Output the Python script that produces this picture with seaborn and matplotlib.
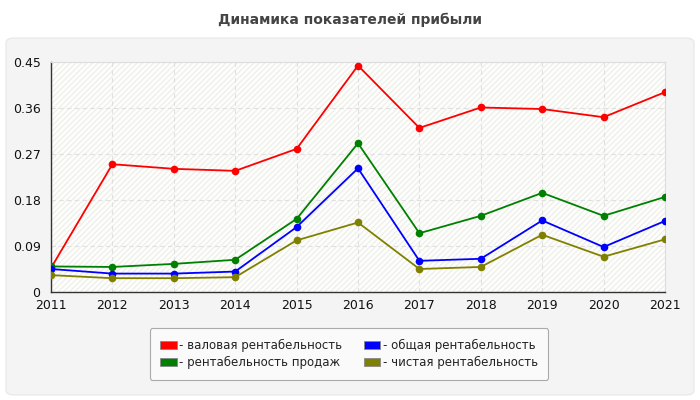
import numpy as np
import pandas as pd
import matplotlib.pyplot as plt
import seaborn as sns
from matplotlib.patches import FancyBboxPatch, Rectangle, Patch
from matplotlib.ticker import FixedLocator, FuncFormatter

years = [2011, 2012, 2013, 2014, 2015, 2016, 2017, 2018, 2019, 2020, 2021]
gross = [0.047, 0.250, 0.241, 0.237, 0.280, 0.443, 0.321, 0.361, 0.358, 0.342, 0.391]
sales = [0.050, 0.049, 0.055, 0.063, 0.143, 0.291, 0.115, 0.149, 0.194, 0.149, 0.186]
total = [0.045, 0.036, 0.036, 0.040, 0.127, 0.242, 0.061, 0.065, 0.140, 0.088, 0.139]
net = [0.033, 0.027, 0.027, 0.029, 0.101, 0.136, 0.045, 0.049, 0.112, 0.069, 0.103]

series = ["валовая рентабельность", "рентабельность продаж",
          "общая рентабельность", "чистая рентабельность"]
colors = ["#ff0000", "#008000", "#0000ff", "#808000"]

df = pd.DataFrame({
    "year": years * 4,
    "value": gross + sales + total + net,
    "series": np.repeat(series, len(years)),
})

sns.set_style("white")
plt.rcParams['font.family'] = ['DejaVu Sans']

fig = plt.figure(figsize=(7, 4), dpi=100)
fig.patch.set_facecolor("white")

# grey panel behind everything
panel = FancyBboxPatch((6 / 700, 5 / 400), 688 / 700, 357 / 400,
                       boxstyle="round,pad=0,rounding_size=0.012",
                       transform=fig.transFigure, facecolor="#f4f4f4",
                       edgecolor="#e6e6e6", linewidth=0.8, zorder=-5)
fig.patches.append(panel)

fig.text(0.5, 1 - 20 / 400, "Динамика показателей прибыли", ha="center", va="center",
         fontsize=10, fontweight="bold", color="#444444")

ax = fig.add_axes([51 / 700, 1 - 292 / 400, 614 / 700, 230 / 400])
ax.set_facecolor("#fefefa")
ax.add_patch(Rectangle((0, 0), 1, 1, transform=ax.transAxes, facecolor="none",
                       edgecolor="#efefef", hatch="//////", linewidth=0, zorder=0))

sns.lineplot(data=df, x="year", y="value", hue="series", palette=colors,
             marker="o", markersize=5.5, markeredgewidth=0, linewidth=1.3,
             legend=False, ax=ax, zorder=3)

ax.set_xlim(2011, 2021)
ax.set_ylim(0, 0.45)
ax.xaxis.set_major_locator(FixedLocator(years))
yt = [0, 0.09, 0.18, 0.27, 0.36, 0.45]
ax.yaxis.set_major_locator(FixedLocator(yt))
ax.yaxis.set_major_formatter(FuncFormatter(lambda v, p: "0" if v == 0 else f"{v:.2f}"))
ax.set_xlabel("")
ax.set_ylabel("")
ax.grid(True, color="#e0e0e0", linestyle=(0, (4, 3)), linewidth=0.8)
ax.set_axisbelow(True)
for s in ["top", "right"]:
    ax.spines[s].set_color("#dddddd")
    ax.spines[s].set_linewidth(0.8)
for s in ["left", "bottom"]:
    ax.spines[s].set_color("#333333")
    ax.spines[s].set_linewidth(1)
ax.tick_params(axis="both", length=4, width=1, color="#333333", labelsize=9,
               labelcolor="#111111", direction="out")
ax.tick_params(axis="x", pad=1)

handles = [Patch(facecolor=c, edgecolor="#888888", linewidth=0.6) for c in colors]
labels = ["- " + s for s in series]
leg = fig.legend(handles, labels, ncol=2, loc="center",
                 bbox_to_anchor=(349 / 700, 1 - 354 / 400), fontsize=8.5,
                 frameon=True, fancybox=True, handlelength=1.4, handleheight=0.7,
                 handletextpad=0.2, columnspacing=1.8, labelspacing=0.35,
                 borderpad=0.9, labelcolor="#222222")
leg.get_frame().set_facecolor("#fafafa")
leg.get_frame().set_edgecolor("#aaaaaa")
leg.get_frame().set_linewidth(0.8)
leg.get_frame().set_alpha(1)

fig.savefig("out.png", dpi=100)
